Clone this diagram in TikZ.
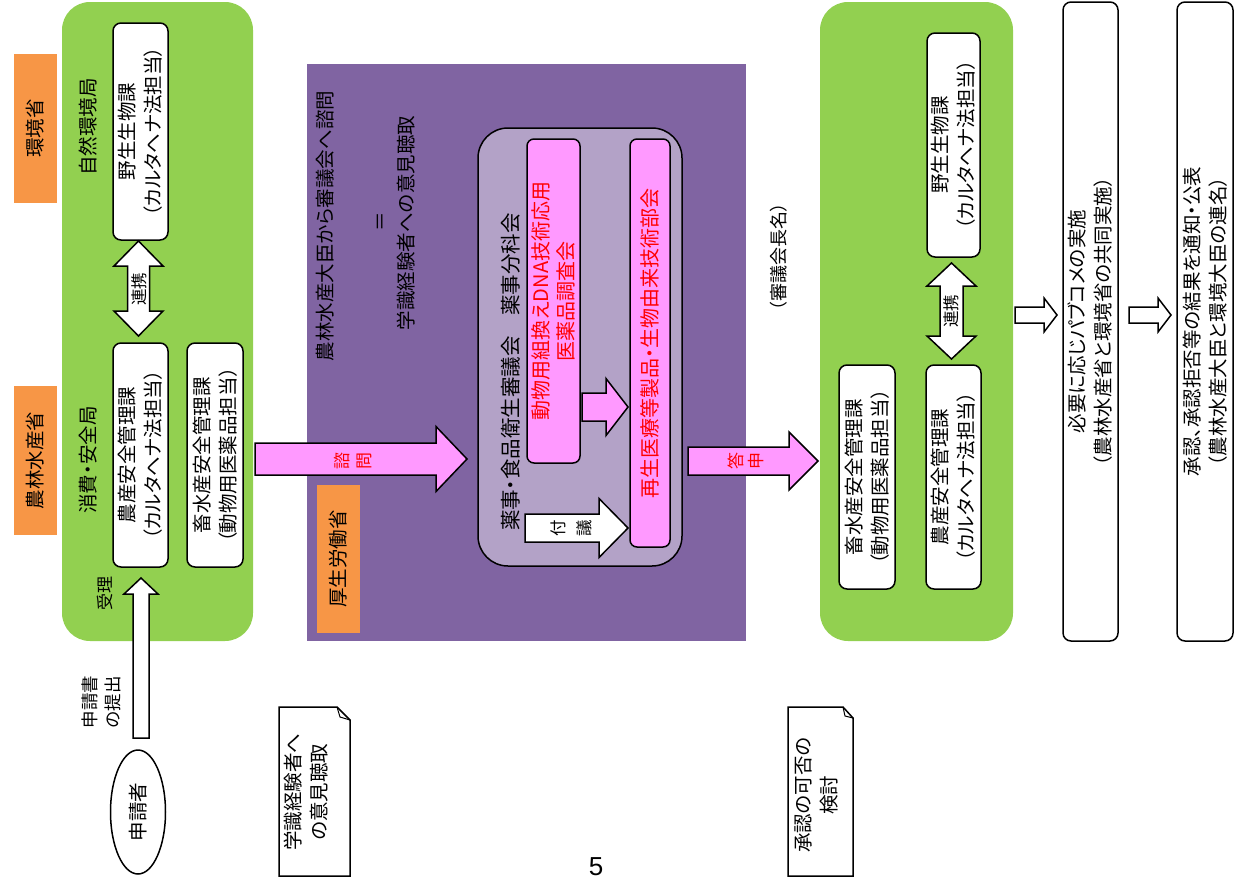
\documentclass[tikz,border=0pt]{standalone}
\usepackage{fontspec}
\setmainfont{Noto Sans CJK JP}[RawFeature=+palt]
\newfontfamily\latfont{Liberation Sans}
\usetikzlibrary{shapes.geometric}
\definecolor{grn}{HTML}{92D050}
\definecolor{orng}{HTML}{F79646}
\definecolor{pur}{HTML}{8064A2}
\definecolor{lpur}{HTML}{B3A2C7}
\definecolor{pnk}{HTML}{FF99FF}
\definecolor{rd}{HTML}{FF0000}
\newcommand\fmain{\fontsize{19.5}{26}\selectfont}
\newcommand\fsmall{\fontsize{16.5}{22}\selectfont}
\newcommand\rarr[7]{\draw[#1] (#2,#5-#6) -- (#3,#5-#6) -- (#3,#5-#7) -- (#4,#5) -- (#3,#5+#7) -- (#3,#5+#6) -- (#2,#5+#6) -- cycle;}
\newcommand\vdbl[7]{\draw[blkarrow,fill=white] (#1,#2) -- (#1+#7,#3) -- (#1+#6,#3) -- (#1+#6,#4) -- (#1+#7,#4) -- (#1,#5) -- (#1-#7,#4) -- (#1-#6,#4) -- (#1-#6,#3) -- (#1-#7,#3) -- cycle;}
\tikzset{
  rtxt/.style={rotate=90, align=center, inner sep=0pt, font=\fmain},
  wbox/.style={draw, fill=white, line width=1.5pt, rounded corners=8pt, rotate=90, align=center, inner sep=0pt, font=\fmain},
  obox/.style={fill=orng, rotate=90, align=center, inner sep=0pt, font=\fmain},
  pbox/.style={draw, fill=pnk, line width=1.5pt, rounded corners=7pt, rotate=90, align=center, inner sep=0pt, text=rd, font=\fontsize{20}{25}\selectfont},
  blkarrow/.style={draw, line width=1.5pt, line join=miter},
  note/.style={draw, fill=white, line width=1.5pt, line join=miter}
}
\begin{document}
\begin{tikzpicture}[x=1pt,y=-1pt]
\useasboundingbox (0,0) rectangle (1236,886);
% ---------- left green ----------
\fill[grn, rounded corners=28pt] (62,2) rectangle (253,641);
\node[obox, minimum width=149pt, minimum height=43pt] (kan) at (35.5,128.5) {環境省};
\node[obox, minimum width=149pt, minimum height=43pt] (nou) at (35.5,460.5) {農林水産省};
\node[rtxt] (shizen) at (88,127) {自然環境局};
\node[rtxt] (shohi) at (88,460) {消費・安全局};
\node[wbox, minimum width=217pt, minimum height=55pt] (yasei1) at (140.5,131.5) {野生生物課\\（カルタヘナ法担当）};
\node[wbox, minimum width=224pt, minimum height=55pt] (nousan1) at (140.5,455) {農産安全管理課\\（カルタヘナ法担当）};
\node[wbox, minimum width=224pt, minimum height=56pt] (chiku1) at (215,455) {畜水産安全管理課\\（動物用医薬品担当）};
\vdbl{138.5}{241}{266}{311}{336}{11}{24.5}
\node[rtxt, font=\fsmall] (renkei1) at (139,289) {連携};
\node[rtxt, font=\fontsize{17}{22}\selectfont] (juri) at (105,593) {受理};
% up arrow
\draw[blkarrow, fill=white] (133,738) -- (133,594) -- (124,594) -- (141,578) -- (158,594) -- (149,594) -- (149,738) -- cycle;
\node[rtxt, font=\fontsize{17.5}{23}\selectfont] (teishutsu) at (101,702) {申請書\\の提出};
\node[draw, ellipse, line width=1.5pt, rotate=90, minimum width=124pt, minimum height=55pt, inner sep=0pt, font=\fmain] (shinseisha) at (138,812) {申請者};
% notes
\draw[note] (279,707) -- (337,707) -- (350,720) -- (350,876) -- (279,876) -- cycle;
\draw[line width=1pt] (337,707) -- (340,717) -- (350,720);
\node[rtxt] (note1) at (306,792) {学識経験者へ\\の意見聴取};
\draw[note] (788,707) -- (843,707) -- (853,718) -- (853,876) -- (788,876) -- cycle;
\draw[line width=1pt] (843,707) -- (845,716) -- (853,718);
\node[rtxt] (note2) at (816,795) {承認の可否の\\検討};
\node[font=\latfont\fontsize{26}{30}\selectfont, inner sep=0pt] (pageno) at (596,867) {5};
% ---------- purple ----------
\fill[pur] (307,64) rectangle (746,641);
\node[rtxt] (shimon) at (325,226) {農林水産大臣から審議会へ諮問};
\node[rtxt] (eq) at (382,222) {＝};
\node[rtxt] (gakushiki) at (406,223) {学識経験者への意見聴取};
\node[obox, minimum width=148pt, minimum height=43pt] (kosei) at (338.5,559) {厚生労働省};
\node[draw, fill=lpur, line width=1.5pt, rounded corners=30pt, minimum width=204pt, minimum height=438pt, inner sep=0pt] (inner) at (580,347) {};
\node[rtxt, font=\fontsize{20.5}{26}\selectfont] (yakuji) at (511,372) {薬事・食品衛生審議会　薬事分科会};
\node[pbox, minimum width=324pt, minimum height=53pt] (dna) at (553.5,301) {動物用組換えDNA技術応用\\医薬品調査会};
\node[pbox, minimum width=408pt, minimum height=40pt] (saisei) at (650,343) {再生医療等製品・生物由来技術部会};
\rarr{blkarrow,fill=pnk}{582}{606}{628}{407}{14}{28.5}
\rarr{blkarrow,fill=white}{525}{599}{628}{528}{14}{29.5}
\node[rtxt, font=\fontsize{16.5}{26}\selectfont] (fugi) at (571,528) {付\\議};
\rarr{blkarrow,fill=pnk}{255}{436}{467}{459}{16}{32.5}
\node[rtxt, font=\fontsize{17}{22}\selectfont, text=rd] (shimonlbl) at (353,461) {諮\\問};
\rarr{blkarrow,fill=pnk}{688}{789}{818}{461}{14}{29}
\node[rtxt, font=\fontsize{17}{20}\selectfont, text=rd] (toshin) at (746,461) {答\\申};
\node[rtxt, font=\fontsize{18}{22}\selectfont] (kaicho) at (779,257) {（審議会長名）};
% ---------- right green ----------
\fill[grn, rounded corners=28pt] (820,2) rectangle (1013,641);
\node[wbox, minimum width=224pt, minimum height=53pt] (yasei2) at (953.5,145) {野生生物課\\（カルタヘナ法担当）};
\vdbl{951.5}{263}{286}{336}{359}{11.5}{24.5}
\node[rtxt, font=\fsmall] (renkei2) at (951.5,311) {連携};
\node[wbox, minimum width=224pt, minimum height=56pt] (chiku2) at (867,477) {畜水産安全管理課\\（動物用医薬品担当）};
\node[wbox, minimum width=224pt, minimum height=55pt] (nousan2) at (953.5,477) {農産安全管理課\\（カルタヘナ法担当）};
\rarr{blkarrow,fill=white}{1015}{1044}{1057}{315}{8}{17}
\node[wbox, minimum width=639pt, minimum height=55pt] (pabukome) at (1090.5,321.5) {必要に応じパブコメの実施\\（農林水産省と環境省の共同実施）};
\rarr{blkarrow,fill=white}{1129}{1158}{1171}{315}{8}{17}
\node[wbox, minimum width=639pt, minimum height=56pt] (shonin) at (1205,321.5) {承認、承認拒否等の結果を通知・公表\\（農林水産大臣と環境大臣の連名）};
\end{tikzpicture}
\end{document}
